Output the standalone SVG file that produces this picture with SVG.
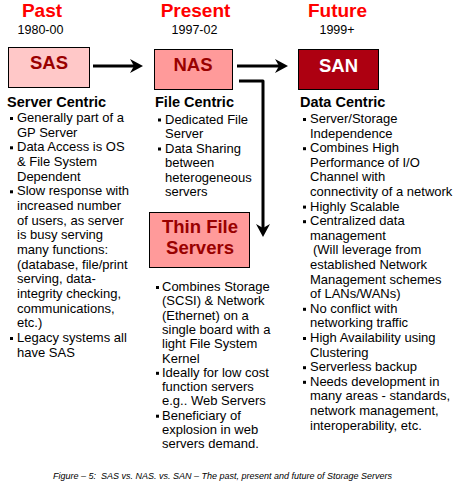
<svg xmlns="http://www.w3.org/2000/svg" width="458" height="496" viewBox="0 0 458 496">
<style>
text{font-family:"Liberation Sans",Arial,sans-serif}
.era{font-size:19px;font-weight:bold;fill:#ff0000;text-anchor:middle}
.yr{font-size:12.5px;fill:#000;text-anchor:middle}
.box{stroke:#000;stroke-width:1}
.lbl{font-size:18.5px;font-weight:bold;text-anchor:middle}
.hd{font-size:14.5px;font-weight:bold;fill:#000}
.bt{font-size:13px;fill:#000}
.bul{fill:#000}
.conn{fill:none;stroke:#000;stroke-width:3}
.cap{font-size:9px;font-style:italic;fill:#000;text-anchor:middle}
</style>
<defs>
<marker id="ah" markerUnits="userSpaceOnUse" markerWidth="14" markerHeight="15" refX="8" refY="7.5" orient="auto">
<path d="M0,0.5 L13,7.5 L0,14.5 L4,7.5 z" fill="#000"/>
</marker>
</defs>
<rect width="458" height="496" fill="#fff"/>

<g id="headers">
<text class="era" x="42" y="17">Past</text>
<text class="yr" x="40.5" y="33.5">1980-00</text>
<text class="era" x="195.5" y="17">Present</text>
<text class="yr" x="194.5" y="33.5">1997-02</text>
<text class="era" x="337.5" y="17">Future</text>
<text class="yr" x="337" y="33.5">1999+</text>
</g>

<g id="node-sas">
<rect class="box" x="8.5" y="47.5" width="81" height="40" fill="#ffc8c8"/>
<text class="lbl" x="49" y="68.5" fill="#990000">SAS</text>
</g>
<g id="node-nas">
<rect class="box" x="154.5" y="49.5" width="78" height="40" fill="#ff9a9a"/>
<text class="lbl" x="193" y="71" fill="#990000">NAS</text>
</g>
<g id="node-san">
<rect class="box" x="298.5" y="49.5" width="80" height="40" fill="#ad0011"/>
<text class="lbl" x="338.5" y="72" fill="#ffffff">SAN</text>
</g>
<g id="node-thin">
<rect class="box" x="149.5" y="212.5" width="100" height="55" fill="#ff9a9a"/>
<text class="lbl" x="200" y="233" fill="#990000">Thin File</text>
<text class="lbl" x="200" y="254" fill="#990000">Servers</text>
</g>

<g id="connectors">
<path class="conn" d="M93,66 H138" marker-end="url(#ah)"/>
<path class="conn" d="M237,66 H283" marker-end="url(#ah)"/>
<path class="conn" d="M239,81 H263 V232" stroke-linejoin="round" marker-end="url(#ah)"/>
</g>

<g id="col-past">
<text class="hd" x="7" y="107">Server Centric</text>
<rect class="bul" x="10" y="117" width="3" height="3"/>
<rect class="bul" x="10" y="146.3" width="3" height="3"/>
<rect class="bul" x="10" y="190.3" width="3" height="3"/>
<rect class="bul" x="10" y="337" width="3" height="3"/>
<text class="bt" x="17" y="122"><tspan x="17">Generally part of a</tspan><tspan x="17" dy="14.67">GP Server</tspan><tspan x="17" dy="14.67">Data Access is OS</tspan><tspan x="17" dy="14.67">&amp; File System</tspan><tspan x="17" dy="14.67">Dependent</tspan><tspan x="17" dy="14.67">Slow response with</tspan><tspan x="17" dy="14.67">increased number</tspan><tspan x="17" dy="14.67">of users, as server</tspan><tspan x="17" dy="14.67">is busy serving</tspan><tspan x="17" dy="14.67">many functions:</tspan><tspan x="17" dy="14.67">(database, file/print</tspan><tspan x="17" dy="14.67">serving, data-</tspan><tspan x="17" dy="14.67">integrity checking,</tspan><tspan x="17" dy="14.67">communications,</tspan><tspan x="17" dy="14.67">etc.)</tspan><tspan x="17" dy="14.67">Legacy systems all</tspan><tspan x="17" dy="14.67">have SAS</tspan></text>
</g>

<g id="col-present">
<text class="hd" x="155" y="107">File Centric</text>
<rect class="bul" x="158" y="118.5" width="3" height="3"/>
<rect class="bul" x="158" y="147.5" width="3" height="3"/>
<text class="bt" x="165" y="123.5"><tspan x="165">Dedicated File</tspan><tspan x="165" dy="14.5">Server</tspan><tspan x="165" dy="14.5">Data Sharing</tspan><tspan x="165" dy="14.5">between</tspan><tspan x="165" dy="14.5">heterogeneous</tspan><tspan x="165" dy="14.5">servers</tspan></text>
<rect class="bul" x="156" y="286" width="3" height="3"/>
<rect class="bul" x="156" y="371.8" width="3" height="3"/>
<rect class="bul" x="156" y="414.7" width="3" height="3"/>
<text class="bt" x="162" y="291"><tspan x="162">Combines Storage</tspan><tspan x="162" dy="14.3">(SCSI) &amp; Network</tspan><tspan x="162" dy="14.3">(Ethernet) on a</tspan><tspan x="162" dy="14.3">single board with a</tspan><tspan x="162" dy="14.3">light File System</tspan><tspan x="162" dy="14.3">Kernel</tspan><tspan x="162" dy="14.3">Ideally for low cost</tspan><tspan x="162" dy="14.3">function servers</tspan><tspan x="162" dy="14.3">e.g.. Web Servers</tspan><tspan x="162" dy="14.3">Beneficiary of</tspan><tspan x="162" dy="14.3">explosion in web</tspan><tspan x="162" dy="14.3">servers demand.</tspan></text>
</g>

<g id="col-future">
<text class="hd" x="300" y="107">Data Centric</text>
<rect class="bul" x="303" y="118" width="3" height="3"/>
<rect class="bul" x="303" y="147.2" width="3" height="3"/>
<rect class="bul" x="303" y="205.6" width="3" height="3"/>
<rect class="bul" x="303" y="220.2" width="3" height="3"/>
<rect class="bul" x="303" y="307.8" width="3" height="3"/>
<rect class="bul" x="303" y="337" width="3" height="3"/>
<rect class="bul" x="303" y="366.2" width="3" height="3"/>
<rect class="bul" x="303" y="380.8" width="3" height="3"/>
<text class="bt" x="310" y="123"><tspan x="310">Server/Storage</tspan><tspan x="310" dy="14.6">Independence</tspan><tspan x="310" dy="14.6">Combines High</tspan><tspan x="310" dy="14.6">Performance of I/O</tspan><tspan x="310" dy="14.6">Channel with</tspan><tspan x="310" dy="14.6">connectivity of a network</tspan><tspan x="310" dy="14.6">Highly Scalable</tspan><tspan x="310" dy="14.6">Centralized data</tspan><tspan x="310" dy="14.6">management</tspan><tspan x="313" dy="14.6">(Will leverage from</tspan><tspan x="310" dy="14.6">established Network</tspan><tspan x="310" dy="14.6">Management schemes</tspan><tspan x="310" dy="14.6">of LANs/WANs)</tspan><tspan x="310" dy="14.6">No conflict with</tspan><tspan x="310" dy="14.6">networking traffic</tspan><tspan x="310" dy="14.6">High Availability using</tspan><tspan x="310" dy="14.6">Clustering</tspan><tspan x="310" dy="14.6">Serverless backup</tspan><tspan x="310" dy="14.6">Needs development in</tspan><tspan x="310" dy="14.6">many areas - standards,</tspan><tspan x="310" dy="14.6">network management,</tspan><tspan x="310" dy="14.6">interoperability, etc.</tspan></text>
</g>

<text class="cap" x="222.5" y="479">Figure – 5:&#160; SAS vs. NAS. vs. SAN – The past, present and future of Storage Servers</text>
</svg>
